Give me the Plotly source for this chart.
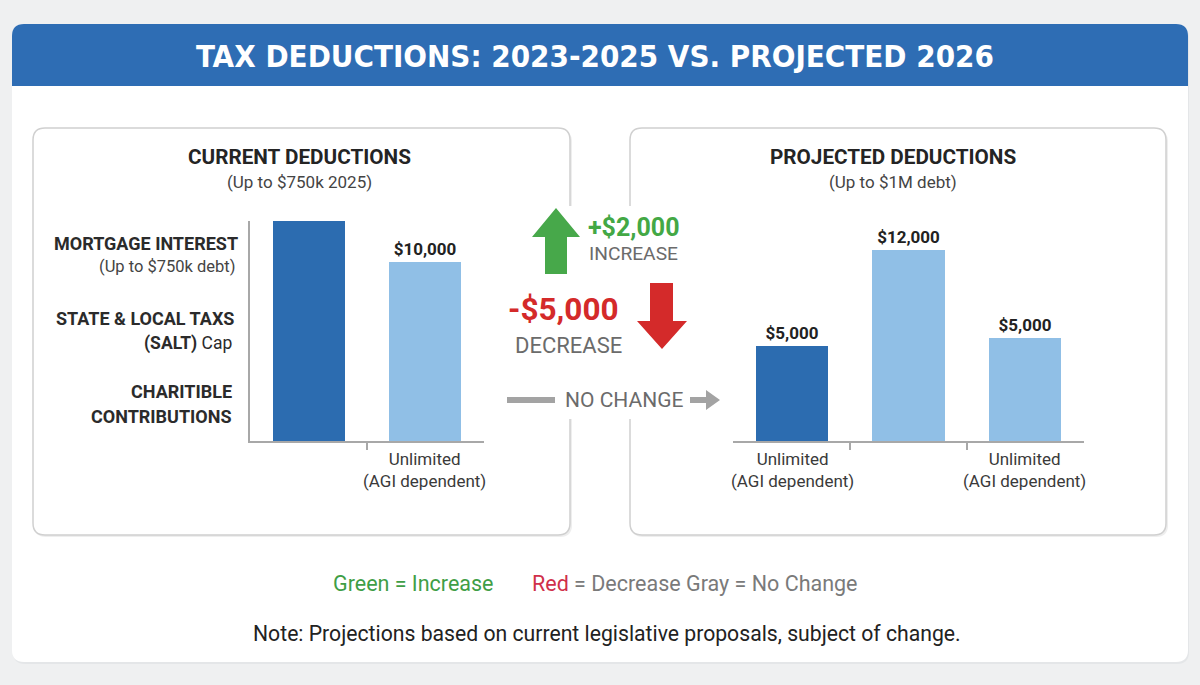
import plotly.graph_objects as go

# ---------------- data ----------------
left_categories = ["Mortgage Interest", "Charitable Contributions"]
left_values = [12300, 10000]
left_labels = ["", "$10,000"]
left_ticktext = ["", "Unlimited<br>(AGI dependent)"]

right_categories = ["Mortgage Interest", "SALT Cap", "Charitable Contributions"]
right_values = [6000, 12000, 6500]
right_labels = ["$5,000", "$12,000", "$5,000"]
right_ticktext = ["Unlimited<br>(AGI dependent)", "", "Unlimited<br>(AGI dependent)"]

bar_colors_left = ["#2c6cb0", "#90bfe6"]
bar_colors_right = ["#2c6cb0", "#90bfe6", "#90bfe6"]

W, H = 1200, 685
def X(px):
    return px / W
def Y(py):
    return 1 - py / H

BODY = "Roboto, 'Noto Sans', sans-serif"
NARROW = "'Liberation Sans Narrow', 'DejaVu Sans Condensed', Roboto, sans-serif"

fig = go.Figure()

fig.add_trace(go.Bar(
    x=list(range(len(left_values))), y=left_values, width=0.62,
    marker=dict(color=bar_colors_left, line=dict(width=0)),
    text=left_labels, textposition="outside", cliponaxis=False,
    textfont=dict(family=BODY, size=17, color="#222222", weight="bold"),
    hovertext=left_categories, xaxis="x", yaxis="y",
))
fig.add_trace(go.Bar(
    x=list(range(len(right_values))), y=right_values, width=0.62,
    marker=dict(color=bar_colors_right, line=dict(width=0)),
    text=right_labels, textposition="outside", cliponaxis=False,
    textfont=dict(family=BODY, size=17, color="#222222", weight="bold"),
    hovertext=right_categories, xaxis="x2", yaxis="y2",
))

ydom = [Y(441), Y(221)]
axis_line = "#a8a8a8"
fig.update_layout(
    xaxis=dict(domain=[X(250), X(484)], range=[-0.51, 1.51], showgrid=False, zeroline=False,
               showline=True, linecolor=axis_line, linewidth=1.5,
               tickvals=[0.5], ticktext=[""], ticks="outside", ticklen=7, tickcolor=axis_line,
               tickwidth=1.5, anchor="y", fixedrange=True),
    yaxis=dict(domain=ydom, range=[0, 12300], showgrid=False, zeroline=False,
               showline=True, linecolor=axis_line, linewidth=1.5, showticklabels=False,
               ticks="", anchor="x"),
    xaxis2=dict(domain=[X(733), X(1084)], range=[-0.51, 2.51], showgrid=False, zeroline=False,
                showline=True, linecolor=axis_line, linewidth=1.5,
                tickvals=[0.5, 1.5], ticktext=["", ""], ticks="outside", ticklen=7,
                tickcolor=axis_line, tickwidth=1.5, anchor="y2"),
    yaxis2=dict(domain=ydom, range=[0, 13822], showgrid=False, zeroline=False,
                showline=False, showticklabels=False, ticks="", anchor="x2"),
)

# ---------------- shapes ----------------
def rrect(x0, y0, x1, y1, r):
    return (f"M {X(x0+r)},{Y(y0)} L {X(x1-r)},{Y(y0)} Q {X(x1)},{Y(y0)} {X(x1)},{Y(y0+r)} "
            f"L {X(x1)},{Y(y1-r)} Q {X(x1)},{Y(y1)} {X(x1-r)},{Y(y1)} "
            f"L {X(x0+r)},{Y(y1)} Q {X(x0)},{Y(y1)} {X(x0)},{Y(y1-r)} "
            f"L {X(x0)},{Y(y0+r)} Q {X(x0)},{Y(y0)} {X(x0+r)},{Y(y0)} Z")

def poly(pts):
    return "M " + " L ".join(f"{X(a)},{Y(b)}" for a, b in pts) + " Z"

shapes = []
def add_path(path, fill, line_color=None, line_width=0):
    shapes.append(dict(type="path", path=path, xref="paper", yref="paper",
                       fillcolor=fill, layer="below",
                       line=dict(color=line_color or fill, width=line_width)))

# card shadow + card
add_path(rrect(13, 26, 1189, 664, 12), "#e4e6e8")
add_path(rrect(12, 24, 1188, 662, 12), "#ffffff")
# title bar
title_path = (f"M {X(12)},{Y(86)} L {X(12)},{Y(36)} Q {X(12)},{Y(24)} {X(24)},{Y(24)} "
              f"L {X(1176)},{Y(24)} Q {X(1188)},{Y(24)} {X(1188)},{Y(36)} L {X(1188)},{Y(86)} Z")
add_path(title_path, "#2e6db4")
# panels (shadow + border)
add_path(rrect(34, 130, 572, 537, 12), "#eeeeee")
add_path(rrect(33, 128, 570, 535, 12), "#ffffff", "#d0d0d0", 1.5)
add_path(rrect(631, 130, 1168, 537, 12), "#eeeeee")
add_path(rrect(630, 128, 1166, 535, 12), "#ffffff", "#d0d0d0", 1.5)
# white cover for border gaps behind the centre content
add_path(poly([(560, 206), (642, 206), (642, 419), (560, 419)]), "#ffffff")
# green up arrow
add_path(poly([(556, 208), (580, 237), (567, 237), (567, 274), (545, 274), (545, 237), (532, 237)]), "#47a84a")
# red down arrow
add_path(poly([(650, 283), (673, 283), (673, 321), (687, 321), (662, 349), (637, 321), (650, 321)]), "#d42a2a")
# gray no-change line + arrow
add_path(poly([(507, 397), (555, 397), (555, 403), (507, 403)]), "#a3a3a3")
add_path(poly([(690, 397), (706, 397), (706, 390), (720, 400), (706, 410), (706, 403), (690, 403)]), "#a3a3a3")

fig.update_layout(shapes=shapes)

# ---------------- annotations ----------------
ann = []
def text(x, y, s, size, color, bold=False, xanchor="center", family=BODY):
    ann.append(dict(x=X(x), y=Y(y), xref="paper", yref="paper", text=s, showarrow=False,
                    xanchor=xanchor, yanchor="middle", align=xanchor if xanchor != "center" else "center",
                    font=dict(family=family, size=size, color=color,
                              weight="bold" if bold else "normal")))

text(595, 56, "TAX DEDUCTIONS: 2023-2025 VS. PROJECTED 2026", 31, "#ffffff", True, family=NARROW)

text(299, 157, "CURRENT DEDUCTIONS", 20.7, "#242424", True)
text(299, 182, "(Up to $750k 2025)", 17, "#444444")
text(893, 157, "PROJECTED DEDUCTIONS", 20.7, "#242424", True)
text(893, 182, "(Up to $1M debt)", 17, "#444444")

text(240, 244, "MORTGAGE INTEREST", 18, "#2b2b2b", True, "right")
text(237, 266, "(Up to $750k debt)", 16.5, "#444444", False, "right")
text(236, 318, "STATE & LOCAL TAXS", 18, "#2b2b2b", True, "right")
text(234, 343, "<b>(SALT)</b> Cap", 17.5, "#2b2b2b", False, "right")
text(234, 392, "CHARITIBLE", 18, "#2b2b2b", True, "right")
text(234, 416, "CONTRIBUTIONS", 18, "#2b2b2b", True, "right")

for i, t in enumerate(left_ticktext):
    if t:
        ann.append(dict(x=i, y=Y(470), xref="x", yref="paper", text=t, showarrow=False,
                        xanchor="center", yanchor="middle", align="center",
                        font=dict(family=BODY, size=17, color="#3a3a3a")))
for i, t in enumerate(right_ticktext):
    if t:
        ann.append(dict(x=i, y=Y(470), xref="x2", yref="paper", text=t, showarrow=False,
                        xanchor="center", yanchor="middle", align="center",
                        font=dict(family=BODY, size=17, color="#3a3a3a")))

text(586, 227, "+$2,000", 25, "#43a845", True, "left")
text(587, 254, "INCREASE", 19.2, "#6b6b6b", False, "left")
text(563, 309, "-$5,000", 31.5, "#d42a2a", True)
text(568, 345, "DECREASE", 22, "#6b6b6b")
text(624, 400, "NO CHANGE", 21, "#6b6b6b")

text(331, 583, "Green = Increase", 21.5, "#3f9e46", False, "left")
text(530, 583, "<span style='color:#d0304a'>Red</span> = Decrease Gray = No Change", 21.5, "#7a7a7a", False, "left")
text(607, 633, "Note: Projections based on current legislative proposals, subject of change.", 21.2, "#222222")

fig.update_layout(
    annotations=ann,
    width=W, height=H, margin=dict(l=0, r=0, t=0, b=0),
    paper_bgcolor="#eff0f1", plot_bgcolor="rgba(0,0,0,0)",
    showlegend=False, bargap=0,
)

fig.write_html("out.html", config={"displayModeBar": False})
